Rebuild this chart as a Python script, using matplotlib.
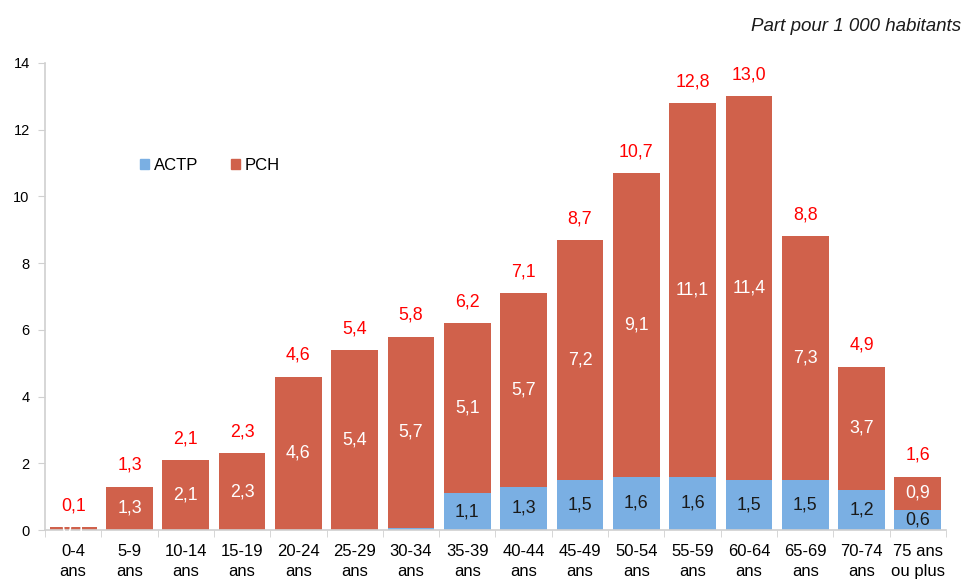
import numpy as np
import matplotlib.pyplot as plt
from matplotlib.patches import Patch

plt.rcParams['font.family'] = ['Liberation Sans', 'DejaVu Sans']

# age groups and rates per 1 000 inhabitants
groups = ['0-4\nans', '5-9\nans', '10-14\nans', '15-19\nans', '20-24\nans', '25-29\nans',
          '30-34\nans', '35-39\nans', '40-44\nans', '45-49\nans', '50-54\nans', '55-59\nans',
          '60-64\nans', '65-69\nans', '70-74\nans', '75 ans\nou plus']
actp = [0.0, 0.0, 0.0, 0.0, 0.0, 0.0, 0.05, 1.1, 1.3, 1.5, 1.6, 1.6, 1.5, 1.5, 1.2, 0.6]
pch = [0.1, 1.3, 2.1, 2.3, 4.6, 5.4, 5.7, 5.1, 5.7, 7.2, 9.1, 11.1, 11.4, 7.3, 3.7, 0.9]
totals = [0.1, 1.3, 2.1, 2.3, 4.6, 5.4, 5.8, 6.2, 7.1, 8.7, 10.7, 12.8, 13.0, 8.8, 4.9, 1.6]

c_actp = '#7aafe3'
c_pch = '#d0614b'

def fr(v):
    return f'{v:.1f}'.replace('.', ',')

fig = plt.figure(figsize=(9.64, 5.79), dpi=100)
ax = fig.add_axes([0.0467, 0.0846, 0.9346, 0.8066])

x = np.arange(len(groups))
actp_a = np.array(actp)
pch_a = np.array(pch)
tot_a = np.array(totals)
pch_h = tot_a - actp_a

ax.bar(x, actp_a, width=0.83, color=c_actp, zorder=2)
ax.bar(x, pch_h, width=0.83, bottom=actp_a, color=c_pch, zorder=2)

for i in range(len(groups)):
    if actp[i] >= 0.5:
        ax.text(x[i], actp[i] / 2, fr(actp[i]), ha='center', va='center',
                fontsize=12.8, color='#1a1a1a', zorder=3)
    ax.text(x[i], actp[i] + pch_h[i] / 2, fr(pch[i]), ha='center', va='center',
            fontsize=12.8, color='white', zorder=3)
    ax.text(x[i], totals[i] + 0.38, fr(totals[i]), ha='center', va='bottom',
            fontsize=12.8, color='#ff0000', zorder=3)

ax.set_xlim(-0.5, len(groups) - 0.5)
ax.set_ylim(0, 14)
ax.set_yticks(range(0, 15, 2))
ax.set_xticks(x)
ax.set_xticklabels(groups, fontsize=12, linespacing=1.45)
ax.set_xticks(np.arange(-0.5, len(groups), 1), minor=True)
ax.tick_params(axis='x', which='major', length=0, pad=10)
ax.tick_params(axis='x', which='minor', length=5, color='#d0d0d0', direction='out')
ax.tick_params(axis='y', length=5, color='#d0d0d0', labelsize=10.5, pad=6)

for s in ['top', 'right']:
    ax.spines[s].set_visible(False)
for s in ['left', 'bottom']:
    ax.spines[s].set_color('#d0d0d0')
    ax.spines[s].set_linewidth(1.2)

handles = [Patch(color=c_actp, label='ACTP'), Patch(color=c_pch, label='PCH')]
ax.legend(handles=handles, loc='center', bbox_to_anchor=(0.183, 0.78), ncol=2,
          frameon=False, fontsize=12, handlelength=0.55, handleheight=0.55,
          handletextpad=0.25, columnspacing=2.0)

fig.text(0.997, 0.955, 'Part pour 1 000 habitants', ha='right', va='center',
         fontsize=13.5, style='italic', color='#1a1a1a')

fig.savefig('out.png', dpi=100)
